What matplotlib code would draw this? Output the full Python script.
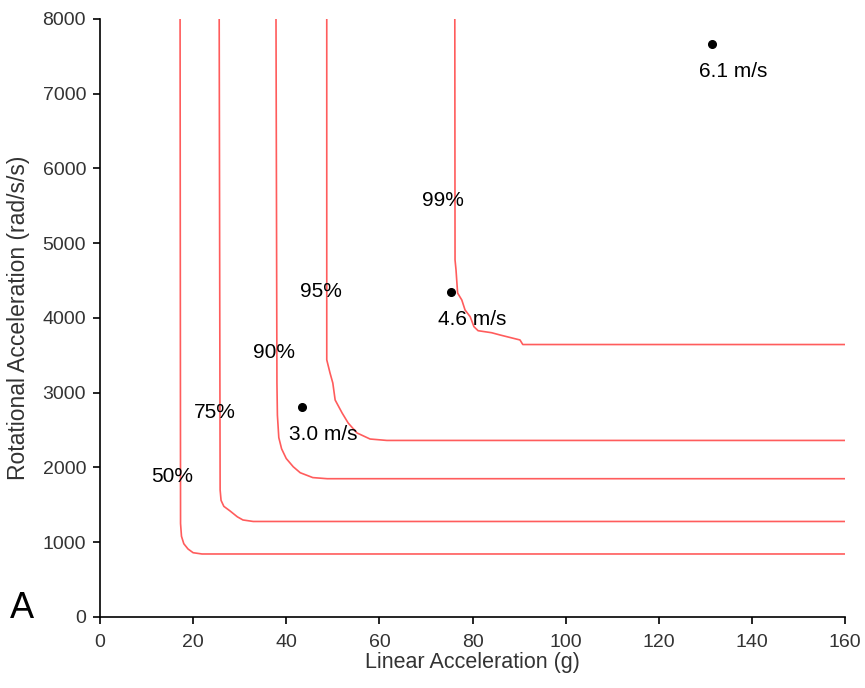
import matplotlib
matplotlib.use("Agg")
import matplotlib.pyplot as plt

plt.rcParams['font.family'] = ['Liberation Sans', 'DejaVu Sans']

# Contour curves (linear acceleration g, rotational acceleration rad/s/s)
c50_x = [17.2, 17.3, 17.5, 18.0, 18.9, 20.0, 21.9, 160]
c50_y = [8000, 1250, 1080, 980, 910, 860, 843, 843]

c75_x = [25.6, 25.8, 26.0, 26.6, 27.9, 29.5, 30.7, 32.9, 160]
c75_y = [8000, 1700, 1560, 1480, 1420, 1340, 1298, 1278, 1278]

c90_x = [37.8, 38.0, 38.1, 38.4, 39.0, 40.0, 41.5, 43.0, 45.7, 48.8, 160]
c90_y = [8000, 3130, 2700, 2400, 2250, 2120, 2010, 1930, 1865, 1850, 1850]

c95_x = [48.7, 48.7, 49.4, 50.0, 50.5, 52.0, 53.3, 55.2, 58.0, 61.6, 160]
c95_y = [8000, 3440, 3264, 3130, 2903, 2729, 2595, 2462, 2381, 2362, 2362]

c99_x = [76.2, 76.25, 76.46, 76.8, 77.7, 78.4, 79.5, 80.3, 81.2, 84.1, 85.9, 90.2, 90.8, 160]
c99_y = [8000, 4776, 4642, 4334, 4241, 4107, 4017, 3884, 3830, 3803, 3773, 3706, 3645, 3645]

curve_labels = ["50%", "75%", "90%", "95%", "99%"]
label_x = [15.5, 24.7, 37.4, 47.5, 73.7]
label_y = [1873, 2742, 3545, 4348, 5578]

pt_x = [43.4, 75.4, 131.4]
pt_y = [2809, 4348, 7666]
pt_labels = ["3.0 m/s", "4.6 m/s", "6.1 m/s"]

fig = plt.figure(figsize=(8.65, 6.88), dpi=100)
ax = fig.add_axes([0.1156, 0.1032, 0.8613, 0.8692])

for xs, ys in [(c50_x, c50_y), (c75_x, c75_y), (c90_x, c90_y), (c95_x, c95_y), (c99_x, c99_y)]:
    ax.plot(xs, ys, color='#ff5c5c', lw=1.2, solid_joinstyle='round')

for t, x, y in zip(curve_labels, label_x, label_y):
    ax.text(x, y, t, ha='center', va='center', fontsize=15, color='black')

ax.plot(pt_x, pt_y, 'o', color='black', ms=5.5)
for x, y, t in zip(pt_x, pt_y, pt_labels):
    ax.text(x + 4.5, y - 370, t, ha='center', va='center', fontsize=15, color='black')

ax.set_xlim(0, 160)
ax.set_ylim(0, 8000)
ax.set_xticks(range(0, 161, 20))
ax.set_yticks(range(0, 8001, 1000))
ax.spines['top'].set_visible(False)
ax.spines['right'].set_visible(False)
ax.spines['left'].set_linewidth(1.2)
ax.spines['bottom'].set_linewidth(1.2)
ax.tick_params(direction='out', length=5, width=1.2, labelsize=14, labelcolor='#333333')
ax.tick_params(axis='x', pad=7.5)
ax.tick_params(axis='y', pad=5)
ax.set_xlabel('Linear Acceleration (g)', fontsize=15.5, color='#333333')
ax.set_ylabel('Rotational Acceleration (rad/s/s)', fontsize=16.5, color='#333333')
ax.xaxis.set_label_coords(0.5, -0.058)
ax.xaxis.label.set_va('top')
ax.yaxis.set_label_coords(-0.094, 0.5)

fig.text(22 / 865, 1 - 608 / 688, 'A', fontsize=26, ha='center', va='center')

fig.savefig('out.png', dpi=100)
